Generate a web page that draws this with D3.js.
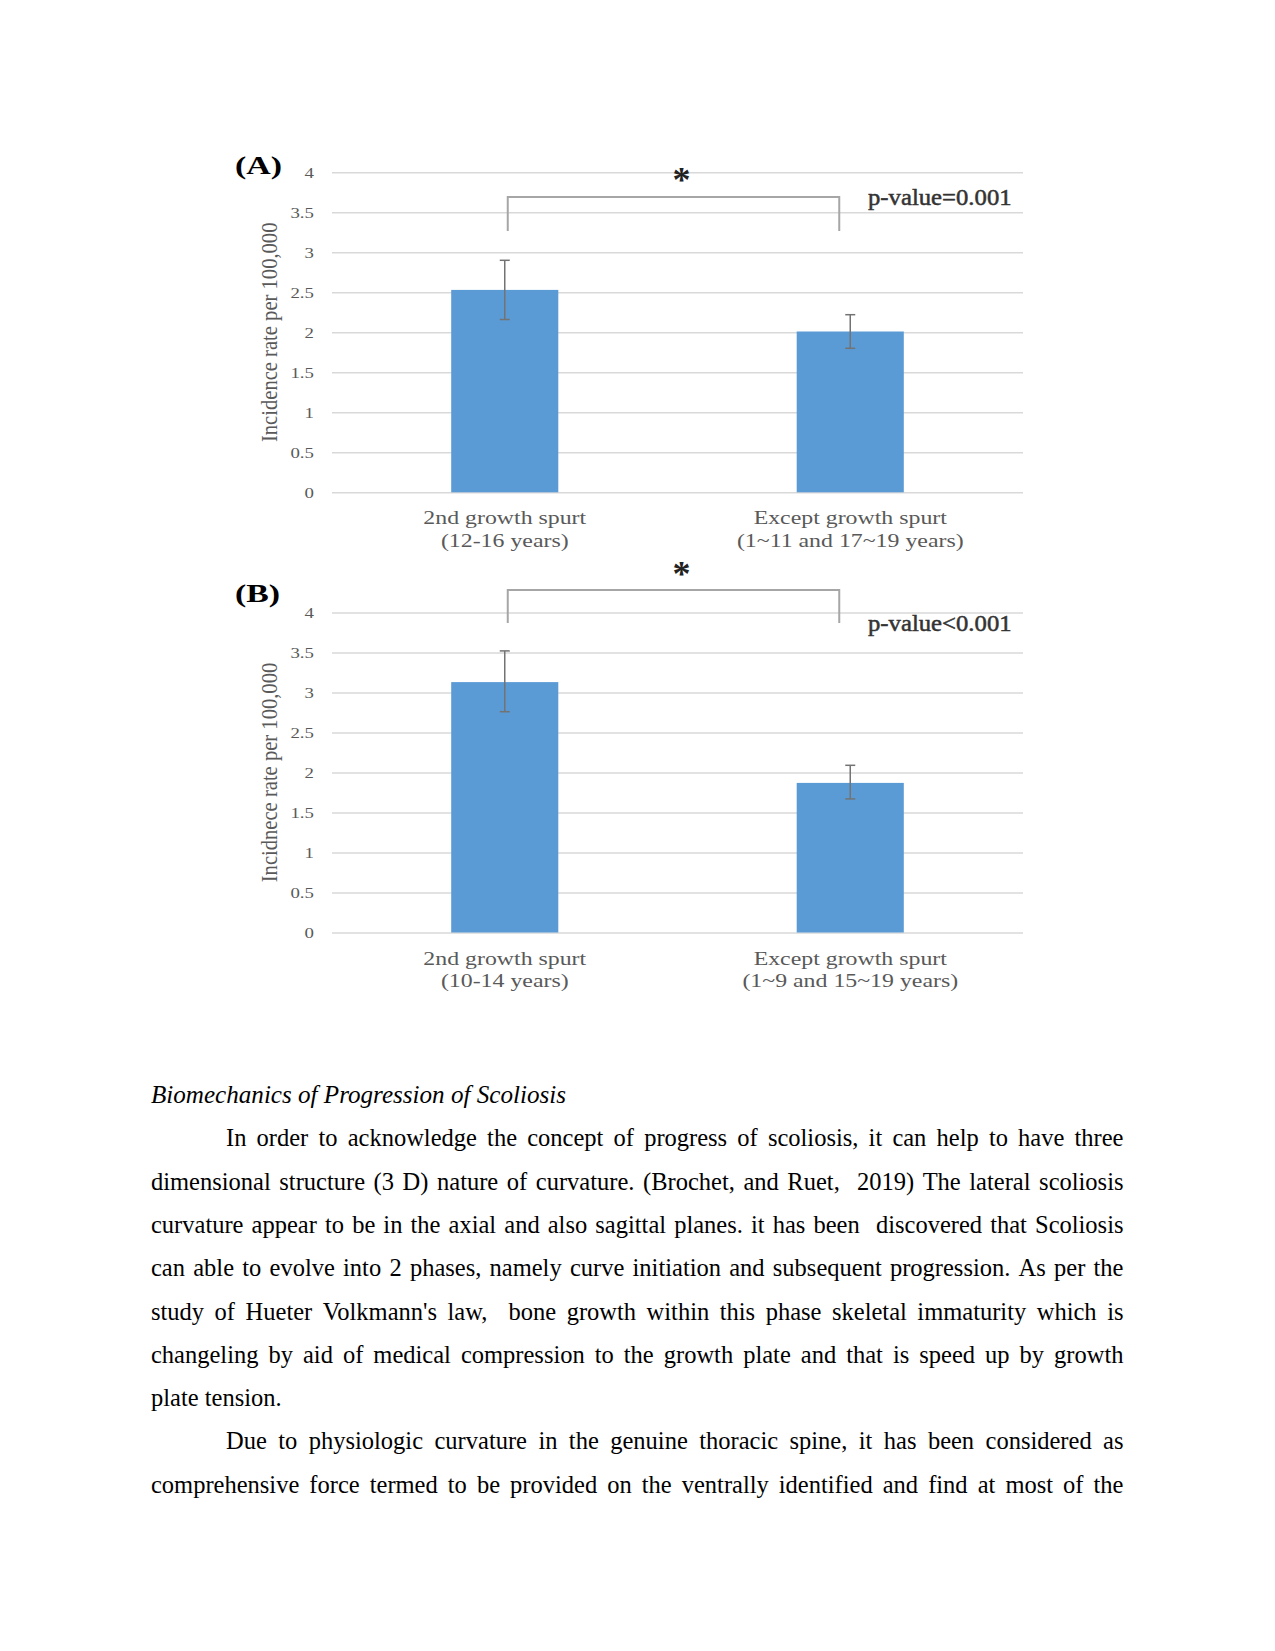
<!DOCTYPE html>
<html><head><meta charset="utf-8">
<script src="https://cdn.jsdelivr.net/npm/d3@7"></script>
<style>html,body{margin:0;padding:0;background:#fff;} svg{display:block;}</style>
</head><body>
<svg id="page" width="1275" height="1651"></svg>
<script>
// ---------------- DATA ----------------
const categoriesA = [["2nd growth spurt", "(12-16 years)"], ["Except growth spurt", "(1~11 and 17~19 years)"]];
const valuesA = [2.53, 2.01];
const errLowA = [2.16, 1.80];
const errHighA = [2.90, 2.22];

const categoriesB = [["2nd growth spurt", "(10-14 years)"], ["Except growth spurt", "(1~9 and 15~19 years)"]];
const valuesB = [3.13, 1.87];
const errLowB = [2.76, 1.67];
const errHighB = [3.52, 2.09];

const yTicks = [0, 0.5, 1, 1.5, 2, 2.5, 3, 3.5, 4];
const yTickLabels = ["0", "0.5", "1", "1.5", "2", "2.5", "3", "3.5", "4"];

const panelLabels = ["(A)", "(B)"];
const yTitles = ["Incidence rate per 100,000", "Incidnece rate per 100,000"];
const pValueLabels = ["p-value=0.001", "p-value<0.001"];
const sigMarks = ["*", "*"];

const headingText = "Biomechanics of Progression of Scoliosis";
const paragraphLines = [
  "In order to acknowledge the concept of progress of scoliosis, it can help to have three",
  "dimensional structure (3 D) nature of curvature. (Brochet, and Ruet,  2019) The lateral scoliosis",
  "curvature appear to be in the axial and also sagittal planes. it has been  discovered that Scoliosis",
  "can able to evolve into 2 phases, namely curve initiation and subsequent progression. As per the",
  "study of Hueter Volkmann's law,  bone growth within this phase skeletal immaturity which is",
  "changeling by aid of medical compression to the growth plate and that is speed up by growth",
  "plate tension.",
  "Due to physiologic curvature in the genuine thoracic spine, it has been considered as",
  "comprehensive force termed to be provided on the ventrally identified and find at most of the"
];
const lineIndent = [true, false, false, false, false, false, false, true, false];
const lineJustify = [true, true, true, true, true, true, false, true, true];

// ---------------- LAYOUT / STYLE ----------------
const serif = "'Liberation Serif', 'Times New Roman', serif";
const STRETCH = 1.255;           // chart image was stretched horizontally
const gray = "#595959";
const barColor = "#5b9bd5";
const plotLeft = 332, plotRight = 1023;

const svg = d3.select("#page");

const panels = [
  { cats: categoriesA, vals: valuesA, lo: errLowA, hi: errHighA, top: 172.3, bottom: 492.3,
    labelY: 174.3, bracketTop: 197, bracketBottom: 231, starY: 174.3, pY: 205 },
  { cats: categoriesB, vals: valuesB, lo: errLowB, hi: errHighB, top: 612.5, bottom: 932.5,
    labelY: 601.7, bracketTop: 590, bracketBottom: 623, starY: 568.3, pY: 630.7 }
];

panels.forEach((p, pi) => {
  const g = svg.append("g");
  const y = d3.scaleLinear().domain([0, 4]).range([p.bottom, p.top]);
  const x = d3.scaleBand().domain(p.cats.map((c, i) => i)).range([plotLeft, plotRight]).padding(0);
  const bw = x.bandwidth() * 0.31;

  // gridlines + tick labels
  const ya = g.append("g").attr("transform", `translate(${plotLeft},0)`)
    .call(d3.axisLeft(y).tickValues(yTicks).tickFormat((d, i) => yTickLabels[i])
      .tickSize(-(plotRight - plotLeft)).tickPadding(0));
  ya.select(".domain").remove();
  ya.selectAll(".tick line").attr("stroke", "#d9d9d9").attr("stroke-width", 1.6);
  ya.selectAll(".tick text")
    .attr("x", null).attr("dy", "0.35em")
    .attr("transform", `translate(-18,0) scale(${STRETCH},1)`)
    .attr("font-family", serif).attr("font-size", 15).attr("fill", gray)
    .attr("text-anchor", "end");

  // bars
  g.selectAll("rect.bar").data(p.vals).join("rect")
    .attr("class", "bar")
    .attr("x", (d, i) => x(i) + x.bandwidth() / 2 - bw / 2)
    .attr("width", bw)
    .attr("y", d => y(d))
    .attr("height", d => y(0) - y(d))
    .attr("fill", barColor);

  // error bars
  const eb = g.selectAll("g.err").data(p.vals.map((v, i) => ({ i, lo: p.lo[i], hi: p.hi[i] }))).join("g")
    .attr("class", "err")
    .attr("transform", d => `translate(${x(d.i) + x.bandwidth() / 2},0)`)
    .attr("stroke", "#737373").attr("stroke-width", 1.5);
  eb.append("line").attr("y1", d => y(d.lo)).attr("y2", d => y(d.hi));
  eb.append("line").attr("x1", -5).attr("x2", 5).attr("y1", d => y(d.hi)).attr("y2", d => y(d.hi));
  eb.append("line").attr("x1", -5).attr("x2", 5).attr("y1", d => y(d.lo)).attr("y2", d => y(d.lo));

  // x labels
  const xl = g.selectAll("text.xlab").data(p.cats).join("text")
    .attr("class", "xlab")
    .attr("transform", (d, i) => `translate(${x(i) + x.bandwidth() / 2},${p.bottom + 32}) scale(${STRETCH},1)`)
    .attr("text-anchor", "middle").attr("font-family", serif).attr("font-size", 19).attr("fill", gray);
  xl.selectAll("tspan").data(d => d).join("tspan")
    .attr("x", 0).attr("dy", (d, j) => j === 0 ? 0 : 22.4).text(d => d);

  // y title
  g.append("text")
    .attr("transform", `translate(277,${(p.top + p.bottom) / 2}) scale(1.15,1) rotate(-90)`)
    .attr("text-anchor", "middle").attr("font-family", serif).attr("font-size", 20.6).attr("fill", gray)
    .text(yTitles[pi]);

  // panel label
  g.append("text")
    .attr("transform", `translate(235,${p.labelY}) scale(1.3,1)`)
    .attr("font-family", serif).attr("font-weight", "bold").attr("font-size", 26).attr("fill", "#000")
    .text(panelLabels[pi]);

  // significance bracket
  const bx1 = x(0) + x.bandwidth() / 2 + 3, bx2 = x(1) + x.bandwidth() / 2 - 11;
  g.append("path")
    .attr("d", `M${bx1},${p.bracketBottom}V${p.bracketTop}H${bx2}V${p.bracketBottom}`)
    .attr("fill", "none").attr("stroke", "#a6a6a6").attr("stroke-width", 2);
  g.append("text")
    .attr("x", (bx1 + bx2) / 2 + 8).attr("y", p.starY + 18)
    .attr("text-anchor", "middle").attr("font-family", serif).attr("font-weight", "bold")
    .attr("font-size", 36).attr("fill", "#222").text(sigMarks[pi]);

  // p-value
  g.append("text")
    .attr("transform", `translate(868,${p.pY}) scale(1.075,1)`)
    .attr("font-family", serif).attr("font-size", 23).attr("fill", "#333")
    .attr("stroke", "#333").attr("stroke-width", 0.5)
    .text(pValueLabels[pi]);
});

// ---------------- BODY TEXT ----------------
const fs = 24.5, textLeft = 151, textRight = 1123.5, lineGap = 43.3, baseY = 1103;
svg.append("text").attr("x", textLeft).attr("y", baseY)
  .attr("font-family", serif).attr("font-style", "italic").attr("font-size", 25.1).attr("fill", "#000")
  .text(headingText);

const meas = svg.append("text").attr("font-family", serif).attr("font-size", fs).attr("visibility", "hidden");
function wlen(s) { if (!s) return 0; meas.text(s); return meas.node().getComputedTextLength(); }

paragraphLines.forEach((line, li) => {
  const words = line.split(" ");
  const x0 = textLeft + (lineIndent[li] ? 75 : 0);
  const widths = words.map(wlen);
  const W = d3.sum(widths);
  const gap = lineJustify[li] && words.length > 1 ? (textRight - x0 - W) / (words.length - 1) : fs * 0.25;
  let cx = x0;
  const t = svg.append("text").attr("y", baseY + lineGap * (li + 1))
    .attr("font-family", serif).attr("font-size", fs).attr("fill", "#000");
  words.forEach((w, wi) => {
    if (w) t.append("tspan").attr("x", cx).text(w + (wi < words.length - 1 ? " " : ""));
    cx += widths[wi] + gap;
  });
});
meas.remove();
</script>
</body></html>
